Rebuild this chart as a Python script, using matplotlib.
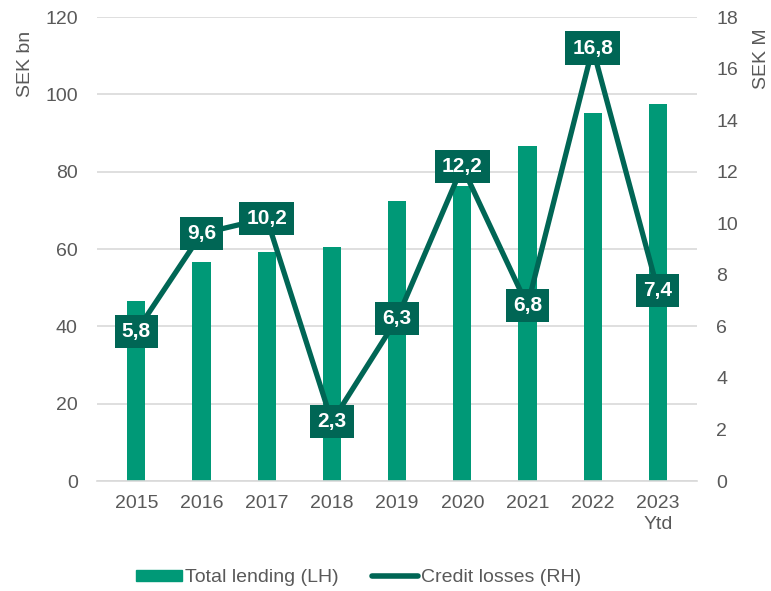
import matplotlib.pyplot as plt
import numpy as np
from matplotlib.lines import Line2D
from matplotlib.patches import Patch

plt.rcParams['font.family'] = ['Liberation Sans', 'DejaVu Sans']

years = ['2015', '2016', '2017', '2018', '2019', '2020', '2021', '2022', '2023\nYtd']
lending = [46.7, 56.6, 59.2, 60.5, 72.5, 76.4, 86.7, 95.2, 97.5]
losses = [5.8, 9.6, 10.2, 2.3, 6.3, 12.2, 6.8, 16.8, 7.4]

bar_col = '#009977'
line_col = '#006655'
txt_col = '#595959'

fig = plt.figure(figsize=(7.71, 5.91), dpi=100)
ax = fig.add_axes([0.126, 0.186, 0.778, 0.785])
ax2 = ax.twinx()

x = np.arange(len(years))
ax.bar(x, lending, width=0.28, color=bar_col, zorder=2)
ax.set_ylim(0, 120)
ax.set_yticks(range(0, 121, 20))
ax.set_xlim(-0.6, len(years) - 0.4)
ax.set_xticks(x)
ax.set_xticklabels(years, linespacing=1.3)
ax.grid(axis='y', color='#d9d9d9', linewidth=1.2, zorder=0)
ax.set_axisbelow(True)

ax2.plot(x, losses, color=line_col, linewidth=3.8, zorder=3)
ax2.set_ylim(0, 18)
ax2.set_yticks(range(0, 19, 2))
for xi, v in zip(x, losses):
    ax2.text(xi, v, f'{v:.1f}'.replace('.', ','), ha='center', va='center',
             color='white', fontsize=15, fontweight='bold', zorder=4,
             bbox=dict(boxstyle='square,pad=0.34', fc=line_col, ec='none'))

for a in (ax, ax2):
    for s in a.spines.values():
        s.set_visible(False)
    a.tick_params(axis='y', length=0, labelsize=14, colors=txt_col, pad=14)
ax.tick_params(axis='x', length=0, labelsize=14, colors=txt_col, pad=10)
ax.spines['bottom'].set_visible(True)
ax.spines['bottom'].set_color('#d9d9d9')
ax.spines['bottom'].set_linewidth(1.2)

ax.set_ylabel('SEK bn', fontsize=14, color=txt_col)
ax.yaxis.set_label_coords(-0.105, 0.9)
ax2.set_ylabel('SEK M', fontsize=14, color=txt_col)
ax2.yaxis.set_label_coords(1.093, 0.91)

handles = [Patch(color=bar_col, label='Total lending (LH)'),
           Line2D([0], [0], color=line_col, linewidth=4, solid_capstyle='round',
                  label='Credit losses (RH)')]
fig.legend(handles=handles, loc='center', bbox_to_anchor=(0.465, 0.022), ncol=2,
           frameon=False, fontsize=14, labelcolor=txt_col, handlelength=2.4,
           handleheight=0.55, handletextpad=0.15, columnspacing=1.7,
           borderpad=0.1)

fig.savefig('out.png', dpi=100)
